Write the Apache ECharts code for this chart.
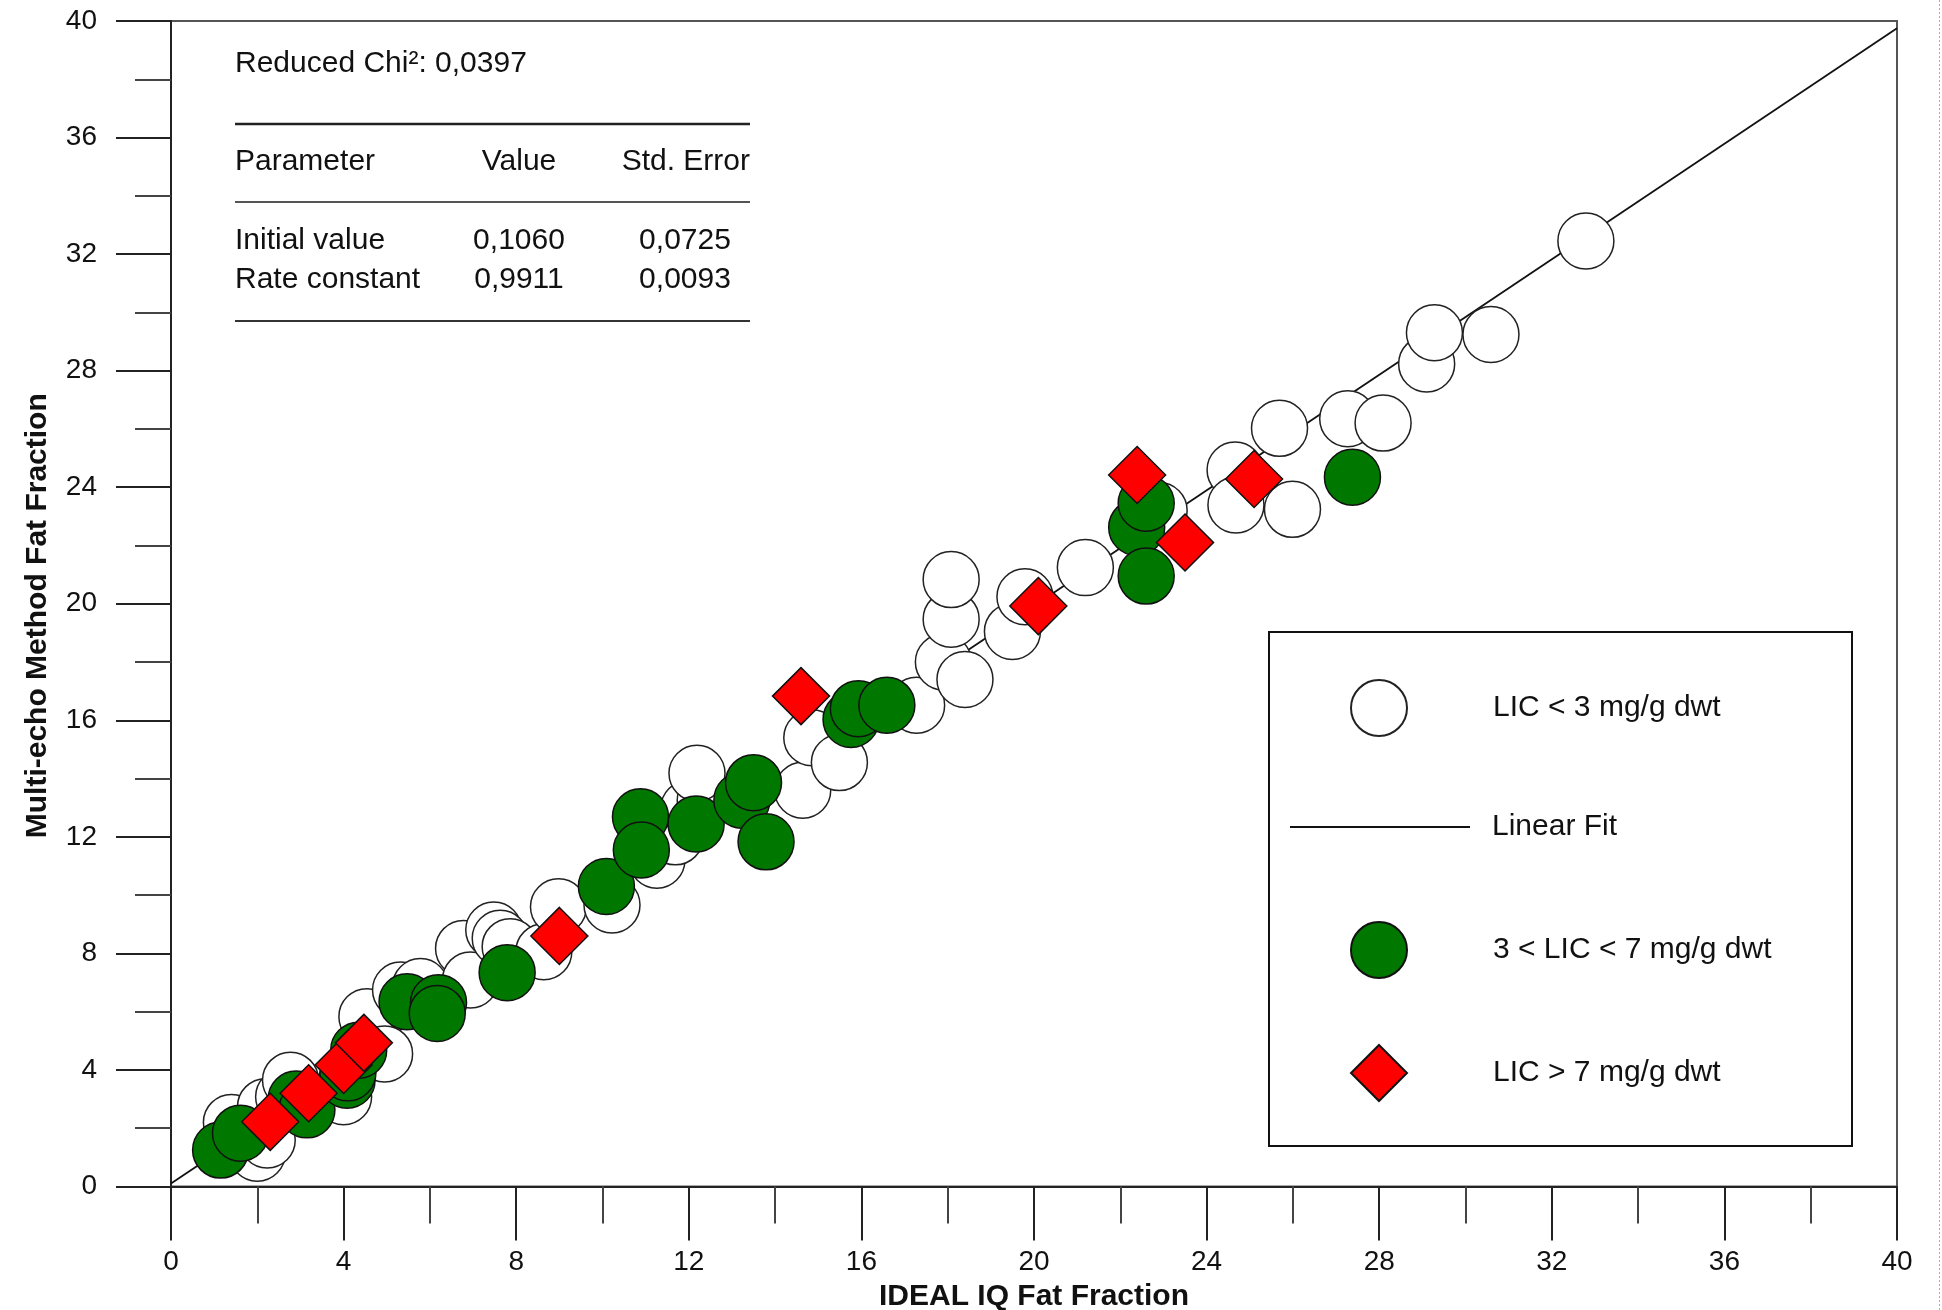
<!DOCTYPE html>
<html>
<head>
<meta charset="utf-8">
<script src="https://cdn.jsdelivr.net/npm/echarts@6/dist/echarts.min.js"></script>
<style>
html,body{margin:0;padding:0;background:#fff;}
#chart{width:1942px;height:1310px;}
</style>
</head>
<body>
<div id="chart"></div>
<script>
// ---- data ----
var xTickValues = [0, 4, 8, 12, 16, 20, 24, 28, 32, 36, 40];
var yTickValues = [0, 4, 8, 12, 16, 20, 24, 28, 32, 36, 40];

var seriesNames = ['LIC < 3 mg/g dwt', 'Linear Fit', '3 < LIC < 7 mg/g dwt', 'LIC > 7 mg/g dwt'];

var lowLIC = [
  [1.4,2.2],[2.0,1.14],[2.23,1.6],[2.19,2.74],[2.61,3.08],[2.77,3.65],[4.0,3.08],
  [4.54,5.83],[4.95,4.55],[5.32,6.74],[5.78,6.86],[6.78,8.17],[6.94,7.09],[7.48,8.8],
  [7.63,8.52],[7.86,8.23],[8.64,8.06],[8.98,9.6],[10.22,9.66],[11.26,11.2],[11.69,12.0],
  [12.0,12.98],[12.38,13.26],[12.19,14.18],[14.64,13.6],[14.85,15.4],[15.49,14.55],
  [17.28,16.52],[17.9,18.0],[18.4,17.4],[18.08,19.47],[18.08,20.83],[19.5,19.05],
  [19.79,20.24],[21.19,21.24],[22.9,23.2],[24.66,24.59],[24.68,23.39],[25.99,23.24],
  [25.69,26.02],[27.27,26.35],[28.09,26.2],[29.1,28.23],[29.28,29.3],[30.59,29.24],[32.79,32.45]
];

var midLIC = [
  [1.15,1.25],[1.61,1.83],[2.9,3.0],[3.15,2.63],[4.08,3.65],[4.1,3.9],[4.35,4.68],
  [5.47,6.34],[6.2,6.31],[6.17,5.94],[7.79,7.34],[10.09,10.3],[10.88,12.69],[10.9,11.55],
  [12.17,12.44],[13.23,13.26],[13.5,13.86],[13.79,11.83],[15.76,16.03],[15.93,16.4],
  [16.59,16.52],[22.38,22.62],[22.6,23.45],[22.6,20.95],[27.38,24.34]
];

var highLIC = [
  [2.3,2.22],[3.19,3.2],[4.0,4.17],[4.47,4.93],[9.0,8.6],[14.6,16.83],
  [20.1,19.92],[22.39,24.42],[23.5,22.1],[25.1,24.28]
];

var fitLine = [[0, 0.106], [40, 39.75]];

var statsTitle = 'Reduced Chi²: 0,0397';
var tableHeader = ['Parameter', 'Value', 'Std. Error'];
var tableRows = [
  ['Initial value', '0,1060', '0,0725'],
  ['Rate constant', '0,9911', '0,0093']
];

// ---- chart ----
var FONT = '"Liberation Sans", Arial, sans-serif';
var chart = echarts.init(document.getElementById('chart'), null, {renderer: 'canvas'});

var tickStyle = {color: '#222', width: 2};
function legendFor(item, top, padLeft, itemWidth, itemHeight, left) {
  return {
    data: [item],
    left: left,
    top: top,
    orient: 'vertical',
    itemWidth: itemWidth,
    itemHeight: itemHeight,
    padding: 0,
    selectedMode: false,
    textStyle: {fontFamily: FONT, fontSize: 30, color: '#111', padding: [0, 0, 0, padLeft]}
  };
}

var graphics = [
  {type: 'rect', shape: {x: 1269, y: 632, width: 583, height: 514}, style: {fill: null, stroke: '#111', lineWidth: 2}, z: 1},
  {type: 'text', left: 235, top: 49, style: {text: statsTitle, font: '30px ' + FONT, fill: '#111'}},
  {type: 'line', shape: {x1: 235, y1: 124, x2: 750, y2: 124}, style: {stroke: '#222', lineWidth: 2.5}},
  {type: 'line', shape: {x1: 235, y1: 202, x2: 750, y2: 202}, style: {stroke: '#555', lineWidth: 2}},
  {type: 'line', shape: {x1: 235, y1: 321, x2: 750, y2: 321}, style: {stroke: '#333', lineWidth: 2}},
  {type: 'text', x: 235, y: 162, style: {text: tableHeader[0], font: '30px ' + FONT, fill: '#111', textAlign: 'left', textVerticalAlign: 'middle'}},
  {type: 'text', x: 519, y: 162, style: {text: tableHeader[1], font: '30px ' + FONT, fill: '#111', textAlign: 'center', textVerticalAlign: 'middle'}},
  {type: 'text', x: 750, y: 162, style: {text: tableHeader[2], font: '30px ' + FONT, fill: '#111', textAlign: 'right', textVerticalAlign: 'middle'}}
];
var rowY = [241, 280];
tableRows.forEach(function (r, i) {
  graphics.push({type: 'text', x: 235, y: rowY[i], style: {text: r[0], font: '30px ' + FONT, fill: '#111', textAlign: 'left', textVerticalAlign: 'middle'}});
  graphics.push({type: 'text', x: 519, y: rowY[i], style: {text: r[1], font: '30px ' + FONT, fill: '#111', textAlign: 'center', textVerticalAlign: 'middle'}});
  graphics.push({type: 'text', x: 685, y: rowY[i], style: {text: r[2], font: '30px ' + FONT, fill: '#111', textAlign: 'center', textVerticalAlign: 'middle'}});
});
graphics.push({type: 'line', shape: {x1: 1939.5, y1: 0, x2: 1939.5, y2: 1310}, style: {stroke: '#a8b0c0', lineWidth: 1, lineDash: [2, 2]}});

var option = {
  animation: false,
  backgroundColor: '#fff',
  grid: {left: 171, right: 45, top: 21, bottom: 123.5, show: true, borderColor: '#555', borderWidth: 2,
         containLabel: false, outerBoundsMode: 'none'},
  xAxis: {
    type: 'value', min: 0, max: 40, interval: 4,
    name: 'IDEAL IQ Fat Fraction', nameLocation: 'middle', nameGap: 93,
    nameTextStyle: {fontFamily: FONT, fontSize: 30, fontWeight: 'bold', color: '#111'},
    axisLine: {show: true, onZero: false, lineStyle: {color: '#222', width: 2}},
    axisTick: {show: true, inside: false, length: 54, lineStyle: tickStyle},
    minorTick: {show: true, splitNumber: 2, length: 37, lineStyle: {color: '#444', width: 2}},
    splitLine: {show: false},
    axisLabel: {margin: 62, fontFamily: FONT, fontSize: 28, color: '#111',
      formatter: function (v) { return xTickValues.indexOf(v) >= 0 ? String(v) : ''; }}
  },
  yAxis: {
    type: 'value', min: 0, max: 40, interval: 4,
    name: 'Multi-echo Method Fat Fraction', nameLocation: 'middle', nameGap: 118, nameRotate: 90,
    nameTextStyle: {fontFamily: FONT, fontSize: 30, fontWeight: 'bold', color: '#111', padding: [0, 24, 0, 0]},
    axisLine: {show: true, onZero: false, lineStyle: {color: '#222', width: 2}},
    axisTick: {show: true, inside: false, length: 55, lineStyle: tickStyle},
    minorTick: {show: true, splitNumber: 2, length: 36, lineStyle: {color: '#444', width: 2}},
    splitLine: {show: false},
    axisLabel: {margin: 74, fontFamily: FONT, fontSize: 28, color: '#111',
      formatter: function (v) { return yTickValues.indexOf(v) >= 0 ? String(v) : ''; }}
  },
  legend: [
    legendFor(seriesNames[0], 707 - 28, 81, 56, 56, 1350),
    legendFor({name: seriesNames[1], icon: 'path://M0,0 L180,0 L180,2 L0,2 Z'}, 812, 17, 180, 30, 1290),
    legendFor(seriesNames[2], 949 - 28, 81, 56, 56, 1350),
    legendFor(seriesNames[3], 1070 - 28 + 2, 81, 56, 56, 1350)
  ],
  graphic: graphics,
  series: [
    {
      name: seriesNames[1], type: 'line', data: fitLine, showSymbol: false, symbol: 'none',
      lineStyle: {color: '#111', width: 1.8}, itemStyle: {color: '#111'}, z: 2, silent: true
    },
    {
      name: seriesNames[0], type: 'scatter', data: lowLIC, symbol: 'circle', symbolSize: 56,
      itemStyle: {color: '#ffffff', borderColor: '#222', borderWidth: 1.5, opacity: 1}, z: 3
    },
    {
      name: seriesNames[2], type: 'scatter', data: midLIC, symbol: 'circle', symbolSize: 56,
      itemStyle: {color: '#007800', borderColor: '#111', borderWidth: 1.5, opacity: 1}, z: 4
    },
    {
      name: seriesNames[3], type: 'scatter', data: highLIC, symbol: 'diamond', symbolSize: 57,
      itemStyle: {color: '#ff0000', borderColor: '#111', borderWidth: 1.5, opacity: 1}, z: 5
    }
  ]
};
chart.setOption(option);
</script>
</body>
</html>
